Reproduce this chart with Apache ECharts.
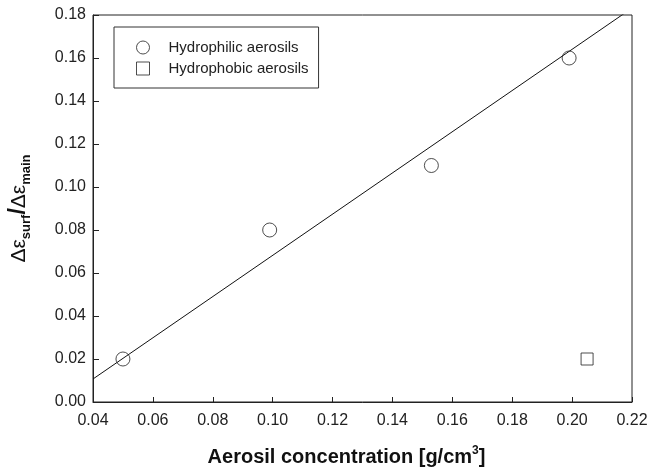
<!DOCTYPE html>
<html>
<head>
<meta charset="utf-8">
<script src="https://cdn.jsdelivr.net/npm/echarts@6/dist/echarts.min.js"></script>
<style>
html,body{margin:0;padding:0;background:#fff;}
#chart{width:661px;height:468px;}
</style>
</head>
<body>
<div id="chart"></div>
<script>
// 数据
var hydrophilic = [[0.050, 0.020], [0.099, 0.080], [0.153, 0.110], [0.199, 0.160]];
var hydrophobic = [[0.205, 0.020]];
// 拟合直线的两个端点
var fitLine = [[0.040, 0.0107], [0.225, 0.1880]];
var xTicks = { min: 0.04, max: 0.22, interval: 0.02 };
var yTicks = { min: 0, max: 0.18, interval: 0.02 };

var font = 'Liberation Sans, Arial, sans-serif';
var myChart = echarts.init(document.getElementById('chart'));
var option = {
    backgroundColor: '#fff',
    animation: false,
    grid: {
        left: 93,
        right: 29,
        top: 15,
        bottom: 66,
        outerBoundsMode: 'none',
        containLabel: false,
        show: true,
        borderColor: '#222',
        borderWidth: 1
    },
    legend: {
        orient: 'vertical',
        left: 114,
        top: 27,
        padding: [13, 10, 12, 22],
        itemGap: 6,
        itemWidth: 13,
        itemHeight: 13,
        borderColor: '#333',
        borderWidth: 1,
        textStyle: { fontFamily: font, fontSize: 15, color: '#222', padding: [0, 0, 0, 14] },
        itemStyle: { color: '#fff', borderColor: '#222', borderWidth: 1 },
        data: [
            { name: 'Hydrophilic aerosils', icon: 'circle' },
            { name: 'Hydrophobic aerosils', icon: 'rect' }
        ]
    },
    xAxis: {
        type: 'value',
        min: xTicks.min,
        max: xTicks.max,
        interval: xTicks.interval,
        splitLine: { show: false },
        axisLine: { lineStyle: { color: '#222', width: 1 } },
        axisTick: { inside: true, length: 5, lineStyle: { color: '#222' } },
        axisLabel: {
            margin: 11,
            fontFamily: font, fontSize: 16, color: '#222',
            formatter: function (v) { return v.toFixed(2); }
        },
        name: '{b|Aerosil concentration [g/cm}{sup|3}{b|]}',
        nameLocation: 'middle',
        nameGap: 43,
        nameTextStyle: {
            padding: [0, 32, 0, 0],
            rich: {
                b: { fontFamily: font, fontSize: 20, fontWeight: 'bold', color: '#111', lineHeight: 24 },
                sup: { fontFamily: font, fontSize: 12, fontWeight: 'bold', color: '#111', verticalAlign: 'top', lineHeight: 24 }
            }
        }
    },
    yAxis: {
        type: 'value',
        min: yTicks.min,
        max: yTicks.max,
        interval: yTicks.interval,
        splitLine: { show: false },
        axisLine: { show: true, lineStyle: { color: '#222', width: 1 } },
        axisTick: { show: true, inside: true, length: 6, lineStyle: { color: '#222' } },
        axisLabel: {
            margin: 7,
            fontFamily: font, fontSize: 16, color: '#222',
            formatter: function (v) { return v.toFixed(2); }
        },
        name: '{d|Δε}{sub|surf}{s|/}{d|Δε}{sub|main}',
        nameLocation: 'middle',
        nameRotate: 90,
        nameGap: 60,
        nameTextStyle: {
            rich: {
                d: { fontFamily: font, fontSize: 21, color: '#111', lineHeight: 28 },
                s: { fontFamily: font, fontSize: 23, fontWeight: 'bold', color: '#111', lineHeight: 28 },
                sub: { fontFamily: font, fontSize: 13, fontWeight: 'bold', color: '#111', verticalAlign: 'bottom', lineHeight: 28 }
            }
        }
    },
    series: [
        {
            name: 'fit',
            type: 'line',
            data: fitLine,
            symbol: 'none',
            clip: true,
            lineStyle: { color: '#111', width: 1 },
            z: 1
        },
        {
            name: 'Hydrophilic aerosils',
            type: 'scatter',
            data: hydrophilic,
            symbol: 'circle',
            symbolSize: 14,
            itemStyle: { color: 'rgba(255,255,255,0)', borderColor: '#222', borderWidth: 1 },
            z: 3
        },
        {
            name: 'Hydrophobic aerosils',
            type: 'scatter',
            data: hydrophobic,
            symbol: 'rect',
            symbolSize: 12,
            itemStyle: { color: 'rgba(255,255,255,0)', borderColor: '#222', borderWidth: 1 },
            z: 3
        }
    ]
};
myChart.setOption(option);
</script>
</body>
</html>
